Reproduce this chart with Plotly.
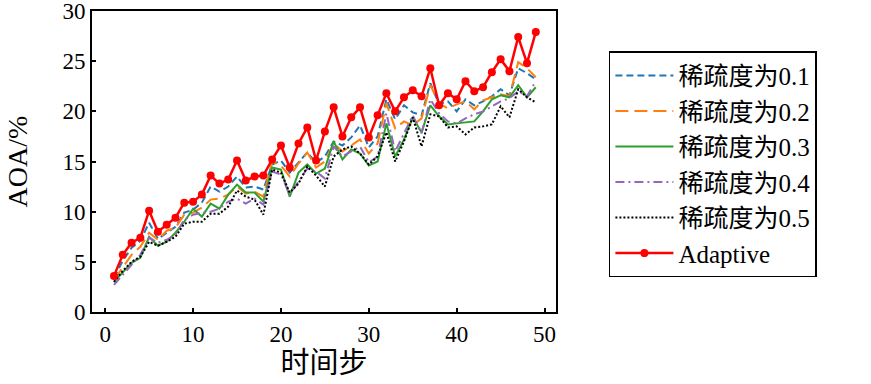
import plotly.graph_objects as go

steps = list(range(1, 50))

s01 = [3.4, 5.1, 6.4, 7.1, 8.9, 7.3, 7.9, 8.5, 9.9, 10.2,
       10.9, 12.5, 12.0, 12.5, 13.5, 12.4, 12.5, 12.2, 14.7, 15.1,
       13.9, 14.9, 15.9, 14.9, 15.5, 17.0, 16.6, 17.4, 18.6, 16.4,
       17.5, 21.2, 19.2, 20.6, 19.9, 19.6, 22.8, 20.7, 21.0, 20.0,
       21.2, 20.6, 21.0, 21.5, 22.2, 21.6, 24.3, 23.8, 23.2]
s02 = [3.2, 4.5, 5.7, 6.5, 7.9, 7.2, 8.1, 8.4, 9.7, 9.9,
       10.4, 11.2, 11.3, 11.7, 12.5, 11.8, 12.0, 11.5, 15.0, 14.6,
       13.5, 14.8, 15.9, 14.4, 15.0, 16.8, 16.0, 16.6, 17.2, 15.8,
       16.8, 20.8, 18.3, 19.0, 18.6, 19.3, 22.6, 20.8, 20.3, 20.7,
       21.0, 20.2, 21.1, 21.4, 21.7, 21.5, 24.9, 24.3, 23.4]
s03 = [3.0, 3.9, 4.9, 5.4, 7.5, 6.6, 7.0, 7.9, 9.0, 10.3,
       9.5, 10.8, 10.3, 11.7, 12.7, 11.9, 11.9, 11.0, 14.4, 14.2,
       11.5, 13.9, 14.7, 13.8, 14.3, 17.0, 15.2, 16.2, 15.8, 14.6,
       15.0, 18.8, 15.5, 17.2, 19.4, 17.9, 20.6, 19.5, 18.7, 18.8,
       18.9, 19.0, 20.0, 21.2, 21.6, 21.4, 22.6, 21.4, 22.4]
s04 = [2.7, 3.7, 4.7, 5.7, 7.4, 6.9, 7.2, 7.7, 9.2, 9.7,
       9.9, 10.0, 10.3, 11.0, 11.3, 10.8, 11.3, 10.7, 14.0, 13.7,
       11.7, 13.0, 14.3, 14.0, 13.3, 16.5, 15.5, 16.0, 16.5, 14.9,
       15.5, 19.8, 16.0, 17.8, 19.6, 17.8, 21.2, 19.8, 19.0, 18.8,
       19.3, 19.7, 20.0, 20.5, 21.0, 21.3, 22.0, 21.5, 23.0]
s05 = [3.0, 4.1, 5.0, 5.5, 7.0, 6.6, 7.0, 7.5, 8.8, 9.0,
       9.0, 9.8, 9.8, 10.5, 12.1, 11.5, 11.2, 9.7, 14.2, 13.9,
       11.9, 12.8, 14.5, 13.6, 12.5, 15.5, 16.2, 16.5, 15.8, 14.7,
       15.5, 17.9, 15.0, 17.0, 19.4, 16.5, 19.7, 19.5, 18.4, 18.5,
       17.7, 18.4, 18.5, 18.7, 20.5, 19.4, 22.2, 21.4, 20.9]
adaptive = [3.6, 5.7, 6.9, 7.4, 10.1, 8.0, 8.7, 9.4, 10.9, 11.0,
            11.7, 13.6, 12.8, 13.2, 15.1, 13.1, 13.5, 13.6, 15.2, 16.6,
            14.4, 16.8, 18.4, 15.1, 18.0, 20.4, 17.5, 19.4, 20.4, 17.4,
            19.6, 21.8, 20.0, 21.4, 22.1, 21.5, 24.3, 20.6, 21.8, 21.2,
            23.0, 22.0, 22.4, 23.9, 25.2, 24.0, 27.4, 24.8, 27.9]

names = ["稀疏度为0.1", "稀疏度为0.2", "稀疏度为0.3", "稀疏度为0.4", "稀疏度为0.5", "Adaptive"]
x_ticks = [0, 10, 20, 30, 40, 50]
y_ticks = [0, 5, 10, 15, 20, 25, 30]

FONT = "Liberation Serif, Noto Sans CJK SC, serif"

fig = go.Figure()
styles = [
    ("#1f77b4", "7px,4px"),
    ("#ff7f0e", "13px,6px"),
    ("#2ca02c", "solid"),
    ("#9467bd", "9px,4px,2px,4px"),
    ("#000000", "2px,2px"),
]
for vals, name, (c, d) in zip([s01, s02, s03, s04, s05], names[:5], styles):
    fig.add_trace(go.Scatter(x=steps, y=vals, name=name, mode="lines",
                             line=dict(color=c, width=2, dash=d)))
fig.add_trace(go.Scatter(x=steps, y=adaptive, name=names[5], mode="lines+markers",
                         line=dict(color="#ff0000", width=2.5),
                         marker=dict(color="#ff0000", size=8)))

fig.update_layout(
    width=871, height=384,
    margin=dict(l=92, r=315, t=11, b=72, autoexpand=False),
    paper_bgcolor="white", plot_bgcolor="white",
    font=dict(family=FONT, size=22, color="black"),
    showlegend=True,
    legend=dict(x=1.114, y=0.866, xanchor="left", yanchor="top",
                bordercolor="black", borderwidth=1.5, bgcolor="white",
                font=dict(family=FONT, size=25, color="black"),
                itemwidth=58, tracegroupgap=0),
)
fig.update_xaxes(range=[-1.5, 51.3], tickvals=x_ticks, ticks="inside", ticklen=4,
                 tickwidth=1.5, tickcolor="black", showline=True, linecolor="black",
                 linewidth=2, mirror=True, showgrid=False, zeroline=False,
                 ticklabeloverflow="allow",
                 tickfont=dict(family=FONT, size=23),
                 title=dict(text="时间步", font=dict(family=FONT, size=29), standoff=2))
fig.update_yaxes(range=[0, 30], tickvals=y_ticks, ticks="inside", ticklen=4,
                 tickwidth=1.5, tickcolor="black", showline=True, linecolor="black",
                 linewidth=2, mirror=True, showgrid=False, zeroline=False,
                 ticklabeloverflow="allow",
                 tickfont=dict(family=FONT, size=23),
                 title=dict(text="AOA/%", font=dict(family=FONT, size=28), standoff=27))

fig.write_html("out.html", config={"displayModeBar": False},
               post_script="document.body.style.margin='0px';")
